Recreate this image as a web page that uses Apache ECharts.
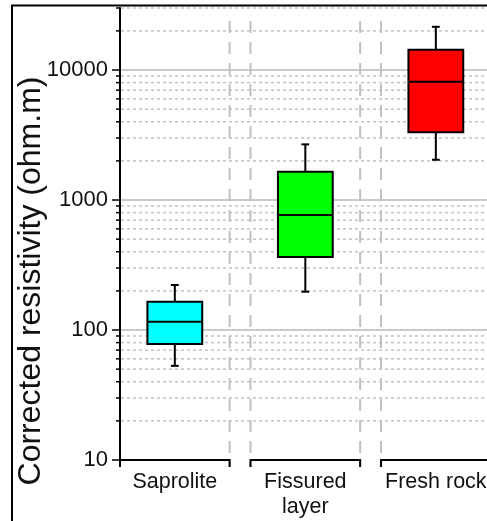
<!DOCTYPE html>
<html>
<head>
    <meta charset="utf-8">
    <title>Corrected resistivity</title>
    <script src="https://cdn.jsdelivr.net/npm/echarts@6/dist/echarts.min.js"></script>
    <style>
        html, body { margin: 0; padding: 0; background: #fff; }
    </style>
</head>
<body>
<div id="chart" style="width: 487px;height:521px;"></div>
</body>

<script type="text/javascript">

    // data
    var categories = ['Saprolite', 'Fissured\nlayer', 'Fresh rock'];
    var whiskerLow = [53, 197, 2040];
    var q1 = [78, 364, 3320];
    var median = [116, 767, 8130];
    var q3 = [165, 1650, 14300];
    var whiskerHigh = [222, 2680, 21500];
    var boxColors = ['#00ffff', '#00ff00', '#ff0000'];

    var yMin = 10;
    var yMax = 30000;
    var majorTicks = [10, 100, 1000, 10000];
    var minorTicks = [20, 30, 40, 50, 60, 70, 80, 90,
        200, 300, 400, 500, 600, 700, 800, 900,
        2000, 3000, 4000, 5000, 6000, 7000, 8000, 9000,
        20000, 30000];

    var FONT = "'Liberation Sans', Arial, sans-serif";
    var SEG_HALF = 0.42;   // half width of each category's axis segment (x units)
    var BOX_HALF = 0.21;
    var CAP_HALF = 0.03;

    var myChart = echarts.init(document.getElementById('chart'));

    function tickItem(len, solid) {
        return function (params, api) {
            var cs = params.coordSys;
            var y = api.coord([0, api.value(1)])[1];
            var children = [{
                type: 'line',
                shape: { x1: cs.x - len, y1: y, x2: cs.x, y2: y },
                style: { stroke: '#000', lineWidth: 1.5 }
            }];
            if (api.value(1) > yMin) {
                children.push({
                    type: 'line',
                    shape: { x1: cs.x + 1, y1: y, x2: cs.x + cs.width, y2: y },
                    style: solid
                        ? { stroke: '#b8b8b8', lineWidth: 1.5 }
                        : { stroke: '#c2c2c2', lineWidth: 1.5, lineDash: [3, 3] }
                });
            }
            return { type: 'group', children: children };
        };
    }

    myChart.setOption({
        backgroundColor: '#fff',
        animation: false,
        grid: { left: 120, right: 0, top: 8, bottom: 61 },
        xAxis: {
            type: 'value',
            min: -SEG_HALF,
            max: 2.392,
            show: false
        },
        yAxis: {
            type: 'log',
            min: yMin,
            max: yMax,
            axisLine: { show: true, onZero: false, lineStyle: { color: '#000', width: 2 } },
            axisTick: { show: false },
            splitLine: { show: false },
            axisLabel: {
                fontSize: 22,
                fontFamily: FONT,
                color: '#111',
                margin: 12,
                showMaxLabel: false,
                formatter: function (v) { return String(Math.round(v)); }
            }
        },
        graphic: [
            {
                type: 'rect',
                shape: { x: 12, y: 5.5, width: 700, height: 700 },
                style: { fill: 'none', stroke: '#000', lineWidth: 2 },
                z: 100
            },
            {
                type: 'text',
                x: 31,
                y: 281,
                rotation: Math.PI / 2,
                style: {
                    text: 'Corrected resistivity (ohm.m)',
                    font: '32px ' + FONT,
                    fill: '#111',
                    align: 'center',
                    verticalAlign: 'middle'
                }
            }
        ],
        series: [
            {
                type: 'custom',
                name: 'minor',
                z: 1,
                data: minorTicks.map(function (v) { return [0, v]; }),
                renderItem: tickItem(4, false)
            },
            {
                type: 'custom',
                name: 'major',
                z: 1,
                data: majorTicks.map(function (v) { return [0, v]; }),
                renderItem: tickItem(8, true)
            },
            {
                // broken x axis: one segment per category, dashed separators, labels
                type: 'custom',
                name: 'segments',
                z: 2,
                data: categories.map(function (c, i) { return [i, yMin]; }),
                renderItem: function (params, api) {
                    var cs = params.coordSys;
                    var i = api.value(0);
                    var l = api.coord([i - SEG_HALF, yMin]);
                    var r = api.coord([i + SEG_HALF, yMin]);
                    var children = [];
                    [l[0], r[0]].forEach(function (x) {
                        if (x > cs.x + 2) {
                            children.push({
                                type: 'line',
                                shape: { x1: x, y1: cs.y + 13, x2: x, y2: l[1] + 7 },
                                style: { stroke: '#c0c0c0', lineWidth: 2, lineDash: [12, 9] }
                            });
                        }
                    });
                    children.push({
                        type: 'polyline',
                        shape: { points: [[l[0], l[1] + 7], [l[0], l[1]], [r[0], r[1]], [r[0], r[1] + 7]] },
                        style: { stroke: '#000', lineWidth: 2, fill: 'none' }
                    });
                    children.push({
                        type: 'text',
                        x: (l[0] + r[0]) / 2,
                        y: l[1] + 10,
                        style: {
                            text: categories[params.dataIndex],
                            font: '21.5px ' + FONT,
                            lineHeight: 24.5,
                            fill: '#111',
                            align: 'center',
                            verticalAlign: 'top'
                        }
                    });
                    return { type: 'group', children: children };
                }
            },
            {
                type: 'custom',
                name: 'boxes',
                z: 5,
                data: categories.map(function (c, i) {
                    return [i, whiskerLow[i], q1[i], median[i], q3[i], whiskerHigh[i]];
                }),
                encode: { x: 0, y: [1, 2, 3, 4, 5] },
                renderItem: function (params, api) {
                    var x = api.value(0);
                    var lo = api.coord([x, api.value(1)]);
                    var b = api.coord([x - BOX_HALF, api.value(2)]);
                    var m = api.coord([x, api.value(3)]);
                    var t = api.coord([x + BOX_HALF, api.value(4)]);
                    var hi = api.coord([x, api.value(5)]);
                    var capW = api.coord([x + CAP_HALF, yMin])[0] - lo[0];
                    var black = { stroke: '#000', lineWidth: 2 };
                    return {
                        type: 'group',
                        children: [
                            { type: 'line', shape: { x1: hi[0], y1: hi[1], x2: hi[0], y2: t[1] }, style: black },
                            { type: 'line', shape: { x1: lo[0], y1: b[1], x2: lo[0], y2: lo[1] }, style: black },
                            { type: 'line', shape: { x1: hi[0] - capW, y1: hi[1], x2: hi[0] + capW, y2: hi[1] }, style: black },
                            { type: 'line', shape: { x1: lo[0] - capW, y1: lo[1], x2: lo[0] + capW, y2: lo[1] }, style: black },
                            {
                                type: 'rect',
                                shape: { x: b[0], y: t[1], width: t[0] - b[0], height: b[1] - t[1] },
                                style: { fill: boxColors[params.dataIndex], stroke: '#000', lineWidth: 2 }
                            },
                            { type: 'line', shape: { x1: b[0], y1: m[1], x2: t[0], y2: m[1] }, style: black }
                        ]
                    };
                }
            }
        ]
    });

</script>
</html>
